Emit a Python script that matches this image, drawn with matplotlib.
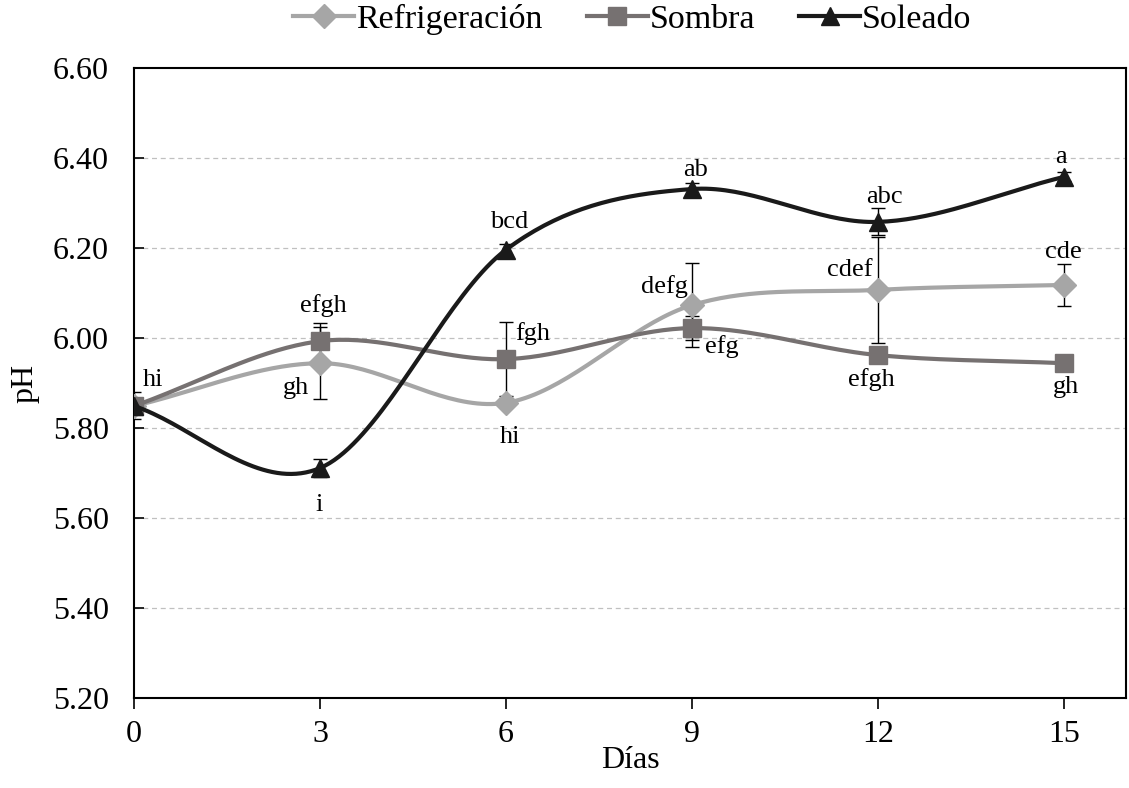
import numpy as np
import matplotlib.pyplot as plt

dias = [0, 3, 6, 9, 12, 15]

refrigeracion = [5.849, 5.944, 5.856, 6.073, 6.107, 6.118]
sombra = [5.849, 5.993, 5.953, 6.022, 5.962, 5.944]
soleado = [5.849, 5.711, 6.196, 6.331, 6.258, 6.358]

err_refrigeracion = [0.0, 0.08, 0.0, 0.093, 0.118, 0.046]
err_sombra = [0.03, 0.04, 0.082, 0.026, 0.0, 0.0]
err_soleado = [0.0, 0.02, 0.012, 0.013, 0.03, 0.01]

# letras de significancia: (texto, x, y, alineacion)
letras = [
    ('hi', 0.31, 5.907, 'center'),
    ('efgh', 3.05, 6.073, 'center'), ('gh', 2.62, 5.888, 'center'), ('i', 2.99, 5.629, 'center'),
    ('bcd', 6.05, 6.258, 'center'), ('fgh', 6.15, 6.01, 'left'), ('hi', 6.06, 5.781, 'center'),
    ('ab', 9.06, 6.373, 'center'), ('defg', 8.56, 6.114, 'center'), ('efg', 9.48, 5.981, 'center'),
    ('abc', 12.11, 6.314, 'center'), ('cdef', 11.55, 6.151, 'center'), ('efgh', 11.9, 5.907, 'center'),
    ('a', 14.96, 6.403, 'center'), ('cde', 14.99, 6.192, 'center'), ('gh', 15.03, 5.892, 'center'),
]

plt.rcParams['font.family'] = ['Liberation Serif', 'DejaVu Serif']


def suavizar(x, y, n=40):
    # curva suavizada tipo Excel (Catmull-Rom)
    x = np.asarray(x, float)
    y = np.asarray(y, float)
    px = np.concatenate([[2 * x[0] - x[1]], x, [2 * x[-1] - x[-2]]])
    py = np.concatenate([[2 * y[0] - y[1]], y, [2 * y[-1] - y[-2]]])
    xs, ys = [], []
    t = np.linspace(0, 1, n)
    for i in range(1, len(px) - 2):
        for arr, out in ((px, xs), (py, ys)):
            p0, p1, p2, p3 = arr[i - 1], arr[i], arr[i + 1], arr[i + 2]
            c1 = p1 + (p2 - p0) / 6
            c2 = p2 - (p3 - p1) / 6
            out.extend((1 - t) ** 3 * p1 + 3 * (1 - t) ** 2 * t * c1 + 3 * (1 - t) * t ** 2 * c2 + t ** 3 * p2)
    return xs, ys


fig = plt.figure(figsize=(11.29, 7.88), dpi=100)
ax = fig.add_axes([0.1187, 0.1142, 0.8785, 0.7995])

series = [
    ('Refrigeración', refrigeracion, err_refrigeracion, '#A6A6A6', 'D', 12),
    ('Sombra', sombra, err_sombra, '#767171', 's', 13),
    ('Soleado', soleado, err_soleado, '#1A1A1A', '^', 13),
]

for i, (nombre, vals, errs, color, mk, ms) in enumerate(series):
    xs, ys = suavizar(dias, vals)
    ax.plot(xs, ys, color=color, lw=3, zorder=3 + i * 2, solid_capstyle='round')
    ax.errorbar(dias, vals, yerr=errs, fmt='none', ecolor='black', elinewidth=1,
                capsize=5, capthick=1, zorder=2)
    ax.plot(dias, vals, linestyle='none', marker=mk, ms=ms, color=color, zorder=4 + i * 2)
    ax.plot([], [], color=color, lw=3, marker=mk, ms=ms, label=nombre)

for txt, x, y, ha in letras:
    ax.text(x, y, txt, ha=ha, va='center', fontsize=19, zorder=10)

ax.set_xlim(0, 16)
ax.set_ylim(5.2, 6.6)
ax.set_xticks(dias)
ax.set_yticks(np.arange(5.2, 6.61, 0.2))
ax.set_yticklabels(['%.2f' % v for v in np.arange(5.2, 6.61, 0.2)])
ax.tick_params(axis='y', direction='in', length=7, width=1.2, labelsize=23, pad=18)
ax.tick_params(axis='x', direction='out', length=8, width=1.2, labelsize=23, pad=8)
for s in ax.spines.values():
    s.set_linewidth(1.5)

for g in np.arange(5.4, 6.41, 0.2):
    ax.axhline(g, color='#C0C0C0', lw=0.9, ls=(0, (4, 3)), zorder=0)

ax.set_xlabel('Días', fontsize=23, labelpad=-2)
ax.set_ylabel('pH', fontsize=23, labelpad=10)

fig.legend(loc='center', bbox_to_anchor=(0.56, 0.975), ncol=3, frameon=False,
           fontsize=24.5, handlelength=1.8, handletextpad=0.05, columnspacing=1.3)

fig.savefig('out.png', dpi=100)
